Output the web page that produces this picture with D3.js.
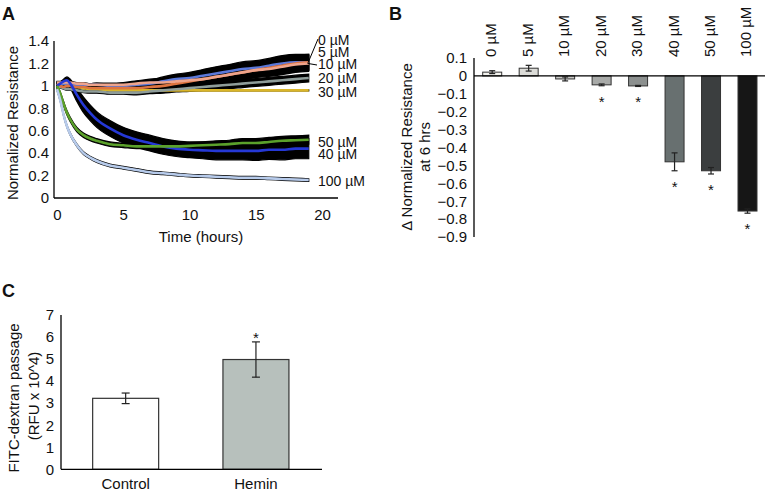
<!DOCTYPE html>
<html><head><meta charset="utf-8">
<script src="https://cdn.jsdelivr.net/npm/d3@7"></script>
<style>
body{margin:0;background:#fff}
svg{display:block}
text{font-family:"Liberation Sans",Arial,Helvetica,sans-serif;fill:#111}
</style>
</head><body>
<svg id="c" width="765" height="493"></svg>
<script>
// ---------- Panel A data ----------
const hours = [0, 0.25, 0.5, 0.75, 1, 1.5, 2, 2.5, 3, 4, 5, 6, 7, 8, 9, 10, 11, 12, 13, 14, 15, 16, 17, 18, 19];
const ticksAx = [0, 5, 10, 15, 20];
const ticksAy = [0, 0.2, 0.4, 0.6, 0.8, 1, 1.2, 1.4];
const labelsA = ["0 µM", "5 µM", "10 µM", "20 µM", "30 µM", "50 µM", "40 µM", "100 µM"];

const res0   = [1.03,1.03,1.03,1.03,1.03,1.02,1.02,1.01,1.01,1.01,1.01,1.02,1.03,1.03,1.04,1.05,1.06,1.08,1.10,1.12,1.14,1.15,1.17,1.19,1.20];
const res5   = [1.02,1.00,0.99,1.00,1.00,0.99,0.99,0.98,0.98,0.98,0.98,0.98,0.99,1.00,1.02,1.04,1.06,1.08,1.10,1.12,1.14,1.16,1.18,1.20,1.21];
const res10  = [1.00,1.01,1.02,1.02,1.02,1.01,1.01,1.01,1.01,1.00,1.00,1.01,1.02,1.04,1.06,1.07,1.09,1.11,1.13,1.15,1.16,1.18,1.20,1.21,1.21];
const res20  = [1.00,0.99,0.98,0.97,0.97,0.96,0.95,0.95,0.95,0.94,0.94,0.94,0.95,0.96,0.97,0.98,0.99,1.00,1.01,1.02,1.03,1.04,1.05,1.06,1.07];
const res30  = [1.00,1.01,1.02,1.01,1.00,0.99,0.98,0.97,0.97,0.96,0.96,0.96,0.96,0.96,0.96,0.96,0.96,0.96,0.96,0.96,0.96,0.96,0.96,0.96,0.96];
const res40  = [1.00,1.02,1.04,1.05,1.02,0.92,0.83,0.76,0.70,0.62,0.56,0.52,0.49,0.46,0.44,0.43,0.425,0.42,0.42,0.42,0.42,0.43,0.43,0.44,0.44];
const res50  = [1.00,0.93,0.84,0.76,0.70,0.61,0.56,0.53,0.51,0.48,0.47,0.46,0.46,0.46,0.46,0.465,0.47,0.475,0.48,0.49,0.49,0.50,0.51,0.515,0.52];
const res100 = [0.97,0.87,0.74,0.64,0.57,0.47,0.40,0.36,0.33,0.29,0.27,0.25,0.23,0.22,0.21,0.20,0.195,0.19,0.185,0.18,0.18,0.175,0.17,0.165,0.16];

const sd0   = [0.01,0.01,0.01,0.01,0.01,0.01,0.01,0.01,0.015,0.015,0.02,0.025,0.03,0.04,0.045,0.05,0.055,0.06,0.06,0.065,0.065,0.065,0.07,0.07,0.07];
const sd5   = [0.01,0.01,0.01,0.01,0.01,0.01,0.01,0.01,0.015,0.015,0.02,0.025,0.03,0.04,0.045,0.05,0.055,0.06,0.06,0.065,0.065,0.065,0.07,0.07,0.07];
const sd10  = [0.01,0.01,0.01,0.01,0.01,0.01,0.01,0.01,0.015,0.015,0.02,0.025,0.03,0.04,0.045,0.05,0.055,0.06,0.06,0.065,0.065,0.065,0.07,0.07,0.07];
const sd20  = [0.01,0.01,0.01,0.01,0.01,0.01,0.01,0.015,0.015,0.015,0.015,0.02,0.02,0.025,0.025,0.03,0.03,0.03,0.035,0.035,0.035,0.035,0.035,0.035,0.035];
const sd30  = [0.005,0.005,0.005,0.005,0.005,0.005,0.005,0.005,0.005,0.005,0.005,0.005,0.005,0.005,0.005,0.005,0.005,0.005,0.005,0.005,0.005,0.005,0.005,0.005,0.005];
const sd40  = [0.01,0.015,0.02,0.03,0.04,0.06,0.07,0.07,0.07,0.07,0.07,0.07,0.07,0.07,0.07,0.07,0.075,0.08,0.08,0.08,0.085,0.085,0.09,0.09,0.09];
const sd50  = [0.01,0.015,0.02,0.02,0.02,0.02,0.02,0.02,0.02,0.02,0.02,0.02,0.02,0.025,0.03,0.03,0.03,0.035,0.035,0.04,0.04,0.04,0.04,0.04,0.04];
const sd100 = [0.012,0.012,0.012,0.012,0.012,0.012,0.012,0.012,0.012,0.012,0.012,0.012,0.012,0.012,0.012,0.012,0.012,0.012,0.012,0.012,0.012,0.012,0.012,0.012,0.012];

// ---------- Panel B data ----------
const concB = ["0 µM", "5 µM", "10 µM", "20 µM", "30 µM", "40 µM", "50 µM", "100 µM"];
const deltaB = [0.021, 0.043, -0.017, -0.050, -0.056, -0.480, -0.530, -0.755];
const errB   = [0.008, 0.016, 0.011, 0.005, 0.003, 0.050, 0.018, 0.012];
const sigB   = [false, false, false, true, true, true, true, true];
const ticksB = [0.1, 0, -0.1, -0.2, -0.3, -0.4, -0.5, -0.6, -0.7, -0.8, -0.9];

// ---------- Panel C data ----------
const groupsC = ["Control", "Hemin"];
const fitcC   = [3.22, 4.98];
const errC    = [0.24, 0.80];
const sigC    = [false, true];
const ticksC  = [0, 1, 2, 3, 4, 5, 6, 7];

// ---------- drawing ----------
const svg = d3.select("#c");
const FS = 15;

function panelLetter(t, x, y) {
  svg.append("text").attr("x", x).attr("y", y).attr("font-size", 18)
    .attr("font-weight", "bold").text(t);
}

// ===== Panel A =====
panelLetter("A", 2, 20);
const xA = d3.scaleLinear().domain([0, 20]).range([57, 322]);
const yA = d3.scaleLinear().domain([0, 1.4]).range([198, 41]);
const seriesA = [
  {v: res30,  sd: sd30,  c: "#d9b52a"},
  {v: res20,  sd: sd20,  c: "#8e9c99"},
  {v: res10,  sd: sd10,  c: "#5b78d8"},
  {v: res5,   sd: sd5,   c: "#dd7440"},
  {v: res0,   sd: sd0,   c: "#eea48c"},
  {v: res40,  sd: sd40,  c: "#2538d6"},
  {v: res50,  sd: sd50,  c: "#5ba12b"},
  {v: res100, sd: sd100, c: "#b7cbeb"}
];
const gA = svg.append("g");
const areaGen = s => d3.area()
  .x((d, i) => xA(hours[i]))
  .y0((d, i) => yA(s.v[i] - s.sd[i]))
  .y1((d, i) => yA(s.v[i] + s.sd[i]))
  .curve(d3.curveMonotoneX);
seriesA.forEach(s => {
  gA.append("path").attr("d", areaGen(s)(s.v))
    .attr("fill", "#000").attr("stroke", "#000").attr("stroke-width", 1.2);
});
seriesA.forEach(s => {
  const lineGen = d3.line().x((d, i) => xA(hours[i])).y(d => yA(d)).curve(d3.curveMonotoneX);
  gA.append("path").attr("d", lineGen(s.v)).attr("fill", "none")
    .attr("stroke", s.c).attr("stroke-width", 2.6);
});
// axes A
const axAy = svg.append("g").attr("transform", "translate(54,0)")
  .call(d3.axisLeft(yA).tickValues(ticksAy).tickSize(0).tickPadding(5).tickFormat(d3.format("~g")));
axAy.select(".domain").remove();
const axAx = svg.append("g").attr("transform", "translate(0,198)")
  .call(d3.axisBottom(xA).tickValues(ticksAx).tickSize(0).tickPadding(11));
axAx.select(".domain").remove();
[axAy, axAx].forEach(g => g.selectAll("text").attr("font-size", FS).attr("font-family", null).attr("fill", "#111"));
svg.append("line").attr("x1", 54).attr("x2", 54).attr("y1", yA(1.4)).attr("y2", yA(0)).attr("stroke", "#000").attr("stroke-width", 1.3);
svg.append("line").attr("x1", 54).attr("x2", 338).attr("y1", yA(0)).attr("y2", yA(0)).attr("stroke", "#000").attr("stroke-width", 1.3);
svg.append("text").attr("x", 201).attr("y", 242).attr("text-anchor", "middle").attr("font-size", FS).text("Time (hours)");
svg.append("text").attr("transform", "translate(18,123) rotate(-90)").attr("text-anchor", "middle").attr("font-size", FS).text("Normalized Resistance");
// labels A
const labelYA = [44.5, 56.7, 68.8, 83, 97, 147, 159, 186];
labelsA.forEach((t, i) => {
  svg.append("text").attr("x", 318).attr("y", labelYA[i]).attr("font-size", 14).text(t);
});
const tipX = xA(19), tipY = yA(1.2);
svg.append("line").attr("x1", tipX - 1).attr("y1", tipY).attr("x2", 318).attr("y2", 39).attr("stroke", "#000").attr("stroke-width", 1);
svg.append("line").attr("x1", tipX - 1).attr("y1", tipY).attr("x2", 317).attr("y2", 65).attr("stroke", "#000").attr("stroke-width", 1);

// ===== Panel B =====
panelLetter("B", 389, 20);
const xB = d3.scaleBand().domain(concB).range([474, 765.7]).paddingInner(0.479).paddingOuter(0.2386);
const yB = d3.scaleLinear().domain([-0.9, 0.1]).range([237, 58]);
const fillB = ["#f3f3ef", "#dcdcd8", "#c9c9c6", "#a8aaa8", "#8c908f", "#687070", "#3b3e3f", "#161616"];
const gB = svg.append("g");
concB.forEach((c, i) => {
  const v = deltaB[i];
  gB.append("rect").attr("x", xB(c)).attr("width", xB.bandwidth())
    .attr("y", yB(Math.max(0, v))).attr("height", Math.abs(yB(v) - yB(0)))
    .attr("fill", fillB[i]).attr("stroke", "#333").attr("stroke-width", 1);
});
svg.append("line").attr("x1", 474).attr("x2", 765).attr("y1", yB(0)).attr("y2", yB(0)).attr("stroke", "#000").attr("stroke-width", 1.2);
concB.forEach((c, i) => {
  const cx = xB(c) + xB.bandwidth() / 2, v = deltaB[i], e = errB[i];
  const y1 = yB(v + e), y2 = yB(v - e);
  gB.append("line").attr("x1", cx).attr("x2", cx).attr("y1", y1).attr("y2", y2).attr("stroke", "#222").attr("stroke-width", 1.2);
  [y1, y2].forEach(yy => gB.append("line").attr("x1", cx - 3).attr("x2", cx + 3).attr("y1", yy).attr("y2", yy).attr("stroke", "#222").attr("stroke-width", 1.2));
  if (sigB[i]) {
    gB.append("text").attr("x", cx).attr("y", yB(v - e) + 21).attr("text-anchor", "middle").attr("font-size", FS).text("*");
  }
  svg.append("text").attr("transform", `translate(${cx + 4},57) rotate(-90)`).attr("font-size", FS).text(c);
});
const axB = svg.append("g").attr("transform", "translate(474,0)")
  .call(d3.axisLeft(yB).tickValues(ticksB).tickSize(0).tickPadding(7).tickFormat(d => d === 0 ? "0" : d3.format(".1f")(d)));
axB.select(".domain").remove();
axB.selectAll("text").attr("font-size", FS).attr("font-family", null).attr("fill", "#111");
svg.append("line").attr("x1", 474).attr("x2", 474).attr("y1", yB(0.1)).attr("y2", yB(-0.9)).attr("stroke", "#000").attr("stroke-width", 1.3);
svg.append("text").attr("transform", "translate(412,147) rotate(-90)").attr("text-anchor", "middle").attr("font-size", FS).text("Δ Normalized Resistance");
svg.append("text").attr("transform", "translate(429.5,147) rotate(-90)").attr("text-anchor", "middle").attr("font-size", FS).text("at 6 hrs");

// ===== Panel C =====
panelLetter("C", 2, 297);
const xC = d3.scaleBand().domain(groupsC).range([61, 320.6]).paddingInner(0.4935).paddingOuter(0.243);
const yC = d3.scaleLinear().domain([0, 7]).range([469.3, 315]);
const fillC = ["#ffffff", "#b7c0bc"];
groupsC.forEach((g, i) => {
  const v = fitcC[i], e = errC[i], cx = xC(g) + xC.bandwidth() / 2;
  svg.append("rect").attr("x", xC(g)).attr("width", xC.bandwidth()).attr("y", yC(v)).attr("height", yC(0) - yC(v))
    .attr("fill", fillC[i]).attr("stroke", "#333").attr("stroke-width", 1.2);
  const y1 = yC(v + e), y2 = yC(v - e);
  svg.append("line").attr("x1", cx).attr("x2", cx).attr("y1", y1).attr("y2", y2).attr("stroke", "#222").attr("stroke-width", 1.2);
  [y1, y2].forEach(yy => svg.append("line").attr("x1", cx - 4).attr("x2", cx + 4).attr("y1", yy).attr("y2", yy).attr("stroke", "#222").attr("stroke-width", 1.2));
  if (sigC[i]) svg.append("text").attr("x", cx).attr("y", y1 + 1).attr("text-anchor", "middle").attr("font-size", FS).text("*");
  svg.append("text").attr("x", cx).attr("y", 489).attr("text-anchor", "middle").attr("font-size", FS).text(g);
});
const axC = svg.append("g").attr("transform", "translate(61,0)")
  .call(d3.axisLeft(yC).tickValues(ticksC).tickSize(0).tickPadding(7).tickFormat(d3.format("d")));
axC.select(".domain").remove();
axC.selectAll("text").attr("font-size", FS).attr("font-family", null).attr("fill", "#111");
svg.append("line").attr("x1", 61).attr("x2", 61).attr("y1", yC(7)).attr("y2", yC(0)).attr("stroke", "#000").attr("stroke-width", 1.3);
svg.append("line").attr("x1", 61).attr("x2", 322).attr("y1", yC(0)).attr("y2", yC(0)).attr("stroke", "#000").attr("stroke-width", 1.3);
svg.append("text").attr("transform", "translate(18.5,398) rotate(-90)").attr("text-anchor", "middle").attr("font-size", FS).text("FITC-dextran passage");
svg.append("text").attr("transform", "translate(38.5,396) rotate(-90)").attr("text-anchor", "middle").attr("font-size", FS).text("(RFU x 10^4)");
</script>
</body></html>
